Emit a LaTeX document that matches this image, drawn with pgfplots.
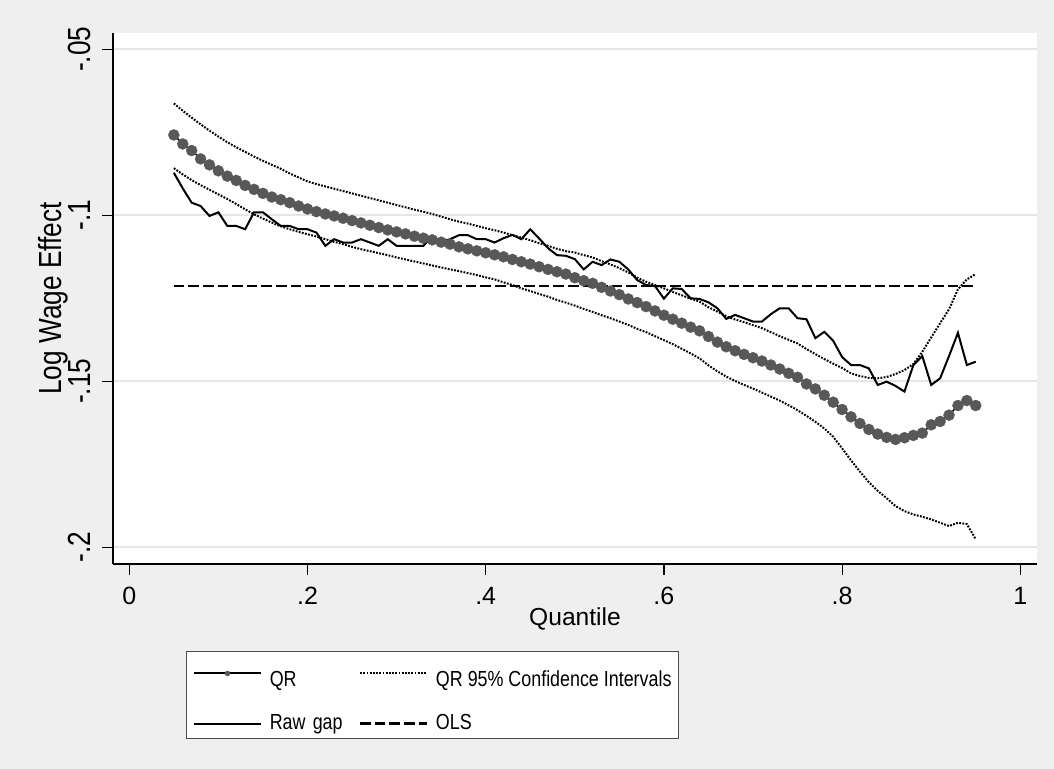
\documentclass[border=0pt]{standalone}
\usepackage{pgfplots}
\pgfplotsset{compat=1.18}
\usepackage{fontspec}
\setmainfont{Liberation Sans}
\newfontfamily\condfont{Liberation Sans}[FakeStretch=0.82]

\definecolor{bgcol}{RGB}{239,239,239}
\definecolor{gridcol}{RGB}{229,229,229}
\definecolor{qrcol}{RGB}{88,88,88}

\newcommand{\xtickfont}{\fontsize{12.5pt}{15pt}\selectfont}
\newcommand{\ytickfont}{\condfont\fontsize{16pt}{18pt}\selectfont}
\newcommand{\xlabfont}{\fontsize{12.3pt}{14pt}\selectfont}
\newcommand{\ylabfont}{\condfont\fontsize{16pt}{18pt}\selectfont}
\newcommand{\legfont}{\condfont\fontsize{10.9pt}{13pt}\selectfont}

\pgfplotsset{
  qr legend/.style={legend image code/.code={%
    \draw[##1, line width=1pt, mark size=1.3pt, mark repeat=2, mark phase=2]
      plot coordinates {(0pt,0pt) (16.65pt,0pt) (33.3pt,0pt)};}},
  bar legend line/.style={legend image code/.code={%
    \draw[##1] (0pt,0pt) -- (33.3pt,0pt);}},
}

% quantile regression estimates with 95% bounds, raw gap by quantile
\pgfplotstableread{
q    qr      hi      lo      raw
0.05 -0.0758 -0.0663 -0.0858 -0.0872
0.06 -0.0785 -0.0685 -0.0877 -0.0919
0.07 -0.0805 -0.0706 -0.0894 -0.0962
0.08 -0.0830 -0.0726 -0.0909 -0.0972
0.09 -0.0848 -0.0745 -0.0923 -0.1002
0.10 -0.0866 -0.0763 -0.0937 -0.0991
0.11 -0.0882 -0.0780 -0.0951 -0.1032
0.12 -0.0895 -0.0795 -0.0966 -0.1032
0.13 -0.0910 -0.0809 -0.0982 -0.1042
0.14 -0.0922 -0.0823 -0.0997 -0.0991
0.15 -0.0934 -0.0836 -0.1010 -0.0991
0.16 -0.0945 -0.0848 -0.1022 -0.1012
0.17 -0.0953 -0.0860 -0.1033 -0.1032
0.18 -0.0962 -0.0874 -0.1042 -0.1032
0.19 -0.0972 -0.0886 -0.1050 -0.1042
0.20 -0.0981 -0.0898 -0.1057 -0.1042
0.21 -0.0989 -0.0906 -0.1064 -0.1052
0.22 -0.0996 -0.0913 -0.1072 -0.1092
0.23 -0.1002 -0.0920 -0.1080 -0.1072
0.24 -0.1009 -0.0927 -0.1087 -0.1082
0.25 -0.1016 -0.0934 -0.1095 -0.1082
0.26 -0.1023 -0.0941 -0.1102 -0.1072
0.27 -0.1030 -0.0948 -0.1108 -0.1082
0.28 -0.1037 -0.0955 -0.1114 -0.1092
0.29 -0.1044 -0.0962 -0.1120 -0.1072
0.30 -0.1050 -0.0969 -0.1127 -0.1092
0.31 -0.1056 -0.0976 -0.1133 -0.1092
0.32 -0.1063 -0.0983 -0.1139 -0.1092
0.33 -0.1069 -0.0989 -0.1145 -0.1092
0.34 -0.1074 -0.0996 -0.1151 -0.1062
0.35 -0.1081 -0.1004 -0.1157 -0.1080
0.36 -0.1087 -0.1012 -0.1163 -0.1072
0.37 -0.1095 -0.1019 -0.1168 -0.1060
0.38 -0.1101 -0.1025 -0.1174 -0.1060
0.39 -0.1107 -0.1032 -0.1180 -0.1072
0.40 -0.1113 -0.1039 -0.1187 -0.1072
0.41 -0.1119 -0.1045 -0.1193 -0.1082
0.42 -0.1125 -0.1052 -0.1202 -0.1069
0.43 -0.1133 -0.1060 -0.1210 -0.1059
0.44 -0.1140 -0.1067 -0.1220 -0.1072
0.45 -0.1147 -0.1075 -0.1228 -0.1042
0.46 -0.1155 -0.1084 -0.1237 -0.1070
0.47 -0.1163 -0.1092 -0.1245 -0.1099
0.48 -0.1170 -0.1101 -0.1255 -0.1120
0.49 -0.1177 -0.1108 -0.1263 -0.1122
0.50 -0.1188 -0.1112 -0.1272 -0.1132
0.51 -0.1197 -0.1120 -0.1282 -0.1163
0.52 -0.1205 -0.1127 -0.1291 -0.1140
0.53 -0.1217 -0.1138 -0.1301 -0.1150
0.54 -0.1228 -0.1148 -0.1310 -0.1133
0.55 -0.1239 -0.1159 -0.1320 -0.1140
0.56 -0.1252 -0.1172 -0.1330 -0.1163
0.57 -0.1263 -0.1188 -0.1342 -0.1195
0.58 -0.1275 -0.1200 -0.1352 -0.1210
0.59 -0.1288 -0.1210 -0.1364 -0.1213
0.60 -0.1301 -0.1220 -0.1376 -0.1251
0.61 -0.1313 -0.1231 -0.1388 -0.1220
0.62 -0.1325 -0.1241 -0.1402 -0.1222
0.63 -0.1337 -0.1251 -0.1416 -0.1250
0.64 -0.1348 -0.1260 -0.1431 -0.1252
0.65 -0.1365 -0.1277 -0.1452 -0.1262
0.66 -0.1382 -0.1290 -0.1470 -0.1280
0.67 -0.1396 -0.1304 -0.1486 -0.1312
0.68 -0.1408 -0.1314 -0.1499 -0.1300
0.69 -0.1419 -0.1322 -0.1511 -0.1310
0.70 -0.1429 -0.1331 -0.1522 -0.1320
0.71 -0.1439 -0.1340 -0.1534 -0.1320
0.72 -0.1451 -0.1352 -0.1546 -0.1298
0.73 -0.1463 -0.1364 -0.1558 -0.1280
0.74 -0.1476 -0.1375 -0.1572 -0.1280
0.75 -0.1488 -0.1386 -0.1587 -0.1310
0.76 -0.1508 -0.1403 -0.1604 -0.1313
0.77 -0.1523 -0.1418 -0.1622 -0.1370
0.78 -0.1542 -0.1433 -0.1642 -0.1351
0.79 -0.1563 -0.1447 -0.1667 -0.1378
0.80 -0.1585 -0.1460 -0.1702 -0.1427
0.81 -0.1607 -0.1476 -0.1738 -0.1451
0.82 -0.1627 -0.1484 -0.1772 -0.1451
0.83 -0.1645 -0.1490 -0.1804 -0.1461
0.84 -0.1659 -0.1491 -0.1830 -0.1511
0.85 -0.1669 -0.1487 -0.1852 -0.1501
0.86 -0.1675 -0.1478 -0.1876 -0.1514
0.87 -0.1670 -0.1466 -0.1891 -0.1531
0.88 -0.1663 -0.1448 -0.1901 -0.1451
0.89 -0.1656 -0.1411 -0.1908 -0.1424
0.90 -0.1631 -0.1368 -0.1916 -0.1511
0.91 -0.1621 -0.1325 -0.1926 -0.1491
0.92 -0.1602 -0.1283 -0.1936 -0.1424
0.93 -0.1573 -0.1223 -0.1926 -0.1354
0.94 -0.1558 -0.1193 -0.1930 -0.1451
0.95 -0.1573 -0.1177 -0.1976 -0.1441
}\gaps

\begin{document}
\begin{tikzpicture}
\fill[bgcol] (-56.5pt,-102.5pt) rectangle (470.5pt,282pt);
\begin{axis}[
  scale only axis, width=462pt, height=265.5pt,
  at={(0pt,0pt)}, anchor=south west,
  xmin=-0.01829, xmax=1.01874, ymin=-0.20503, ymax=-0.04509,
  axis x line*=bottom, axis y line*=left,
  axis line style={-, line width=0.6pt, black},
  axis background/.style={fill=white},
  xtick={0,0.2,0.4,0.6,0.8,1}, xticklabels={0,.2,.4,.6,.8,1},
  ytick={-0.2,-0.15,-0.1,-0.05}, yticklabels={-.2,-.15,-.1,-.05},
  tick align=outside, major tick length=5.5pt,
  tick style={black, line width=0.6pt},
  ymajorgrids, grid style={gridcol, line width=1pt},
  xticklabel style={font=\xtickfont, anchor=north, inner sep=0pt},
  xticklabel shift=6pt,
  yticklabel style={font=\ytickfont, rotate=90, anchor=south, inner sep=0pt},
  yticklabel shift=5.5pt,
  xlabel={Quantile}, ylabel={Log Wage Effect},
  xlabel style={font=\xlabfont, at={(axis description cs:0.5,0)}, anchor=base, yshift=-30.8pt},
  ylabel style={font=\ylabfont, at={(axis description cs:0,0.5)}, anchor=base, yshift=25.5pt},
  legend columns=2,
  legend cell align=left,
  legend style={
    at={(axis description cs:0.0790,-0.1638)}, anchor=north west,
    draw=black!70, line width=0.5pt, fill=white,
    font=\legfont,
    inner xsep=3.35pt, inner ysep=3pt,
    row sep=12.5pt, column sep=0pt,
    nodes={inner sep=0pt},
    /tikz/column 1/.style={column sep=4pt},
    /tikz/column 2/.style={text width=44.65pt},
    /tikz/column 3/.style={column sep=4pt},
    /tikz/row 1/.style={text height=14.5pt},
  },
]
\addplot[black, solid, line width=0.8pt, mark=*, mark size=2.8pt,
  mark options={solid, fill=qrcol, draw=qrcol, line width=0.1pt}, qr legend]
  table[x=q, y=qr] {\gaps};
\addlegendentry{QR}
\addplot[black, line width=1pt, dash pattern=on 0.9pt off 0.7pt, bar legend line]
  table[x=q, y=hi] {\gaps};
\addlegendentry{QR 95\% Confidence Intervals\hspace{4.2pt}}
\addplot[black, line width=1pt, dash pattern=on 0.9pt off 0.7pt, forget plot]
  table[x=q, y=lo] {\gaps};
\addplot[black, line width=1pt, bar legend line]
  table[x=q, y=raw] {\gaps};
\addlegendentry{Raw gap}
\addplot[black, line width=1.15pt, dash pattern=on 5.3pt off 2pt, bar legend line]
  coordinates {(0.05,-0.1212) (0.95,-0.1212)};
\addlegendentry{OLS}
\end{axis}
\pgfresetboundingbox
\useasboundingbox (-56.5pt,-102.5pt) rectangle (470.5pt,282pt);
\end{tikzpicture}
\end{document}
